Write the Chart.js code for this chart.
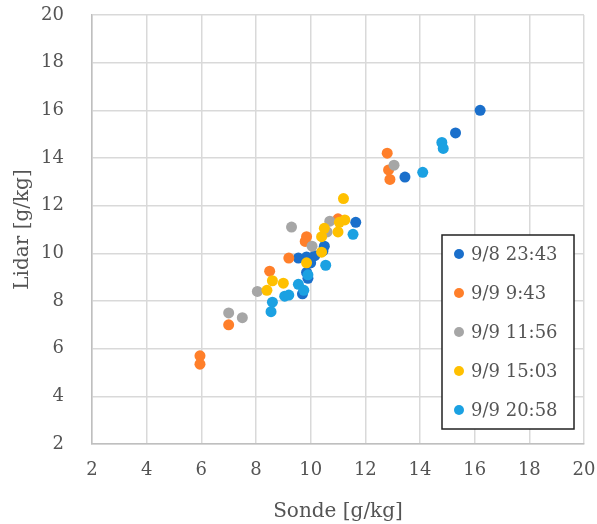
<!DOCTYPE html>
<html>
<head>
<meta charset="utf-8">
<script src="https://cdn.jsdelivr.net/npm/chart.js@4"></script>
<style>
  html, body { margin: 0; padding: 0; background: #fff; }
  #wrap { width: 597px; height: 524px; }
</style>
</head>
<body>
<div id="wrap"><canvas id="scatter"></canvas></div>
<script>
// series labels (legend)
const seriesNames = ['9/8 23:43', '9/9 9:43', '9/9 11:56', '9/9 15:03', '9/9 20:58'];
const seriesColors = ['#1a6fcb', '#ff7f2a', '#a6a6a6', '#ffc000', '#1ba1e2'];

// [sonde, lidar] pairs
const run0843 = [[16.2, 16.0], [15.3, 15.05], [13.45, 13.2], [11.65, 11.3], [10.5, 10.3],
  [10.15, 9.9], [9.85, 9.85], [9.55, 9.8], [10.0, 9.6], [9.85, 9.2], [9.9, 8.95], [9.7, 8.3], [10.45, 10.1]];
const run0943 = [[12.8, 14.2], [12.85, 13.5], [12.9, 13.1], [9.85, 10.7], [9.8, 10.5], [11.0, 11.45],
  [9.2, 9.8], [8.5, 9.25], [7.0, 7.0], [5.95, 5.7], [5.95, 5.35]];
const run1156 = [[13.05, 13.7], [9.3, 11.1], [10.7, 11.35], [10.05, 10.3], [10.6, 10.9],
  [8.05, 8.4], [7.0, 7.5], [7.5, 7.3]];
const run1503 = [[11.2, 12.3], [11.25, 11.4], [11.05, 11.3], [11.0, 10.9], [10.5, 11.05], [10.4, 10.7],
  [10.4, 10.05], [9.85, 9.6], [8.6, 8.85], [9.0, 8.75], [8.4, 8.45]];
const run2058 = [[14.8, 14.65], [14.85, 14.4], [14.1, 13.4], [11.55, 10.8], [10.55, 9.5], [9.9, 9.1],
  [9.55, 8.7], [9.75, 8.45], [9.05, 8.2], [9.2, 8.25], [8.6, 7.95], [8.55, 7.55]];

const allRuns = [run0843, run0943, run1156, run1503, run2058];

const FONT = '"DejaVu Serif", serif';
const TXT = '#545454';

// legend box drawn inside the plot
const boxLegend = {
  id: 'boxLegend',
  afterDraw(chart) {
    const ctx = chart.ctx;
    const x0 = 442, y0 = 235, w = 132, h = 194;
    ctx.save();
    ctx.fillStyle = '#fff';
    ctx.fillRect(x0, y0, w, h);
    ctx.strokeStyle = '#222';
    ctx.lineWidth = 1.5;
    ctx.strokeRect(x0, y0, w, h);
    ctx.font = '18px ' + FONT;
    ctx.textBaseline = 'middle';
    chart.data.datasets.forEach((ds, i) => {
      const yy = y0 + 19 + i * 39;
      ctx.fillStyle = ds.backgroundColor;
      ctx.beginPath();
      ctx.arc(x0 + 17, yy, 5, 0, Math.PI * 2);
      ctx.fill();
      ctx.fillStyle = TXT;
      ctx.fillText(ds.label, x0 + 29, yy + 1);
    });
    ctx.restore();
  }
};

const ctx = document.getElementById('scatter').getContext('2d');
new Chart(ctx, {
  type: 'scatter',
  data: {
    datasets: allRuns.map((run, i) => ({
      label: seriesNames[i],
      data: run.map(p => ({ x: p[0], y: p[1] })),
      backgroundColor: seriesColors[i],
      borderColor: seriesColors[i],
      pointRadius: 5.5,
      pointHoverRadius: 5.5,
      borderWidth: 0,
      order: allRuns.length - i   // later series on top
    }))
  },
  options: {
    responsive: true,
    maintainAspectRatio: false,
    animation: false,
    layout: { padding: { top: 15, right: 13, left: 0, bottom: 0 } },
    plugins: {
      legend: { display: false },
      tooltip: { enabled: false }
    },
    scales: {
      x: {
        type: 'linear',
        min: 2, max: 20,
        ticks: { stepSize: 2, padding: 16, color: TXT, font: { family: FONT, size: 18 } },
        grid: { color: '#d9d9d9', lineWidth: 1.5, drawTicks: false },
        border: { color: '#bfbfbf', width: 1.5 },
        title: { display: true, text: 'Sonde [g/kg]', color: TXT, font: { family: FONT, size: 20 }, padding: { top: 4, bottom: 0 } },
        afterFit(scale) {
          scale.height = 80;
          scale.paddingLeft = 0;
          scale.paddingRight = 0;
        }
      },
      y: {
        type: 'linear',
        min: 2, max: 20,
        ticks: { stepSize: 2, padding: 28, color: TXT, font: { family: FONT, size: 18 } },
        grid: { color: '#d9d9d9', lineWidth: 1.5, drawTicks: false },
        border: { color: '#bfbfbf', width: 1.5 },
        title: { display: true, text: 'Lidar [g/kg]', color: TXT, font: { family: FONT, size: 20 }, padding: { top: 11, bottom: 4 } },
        afterFit(scale) {
          scale.width = 92;
          scale.paddingTop = 0;
          scale.paddingBottom = 0;
        }
      }
    }
  },
  plugins: [boxLegend]
});
</script>
</body>
</html>
